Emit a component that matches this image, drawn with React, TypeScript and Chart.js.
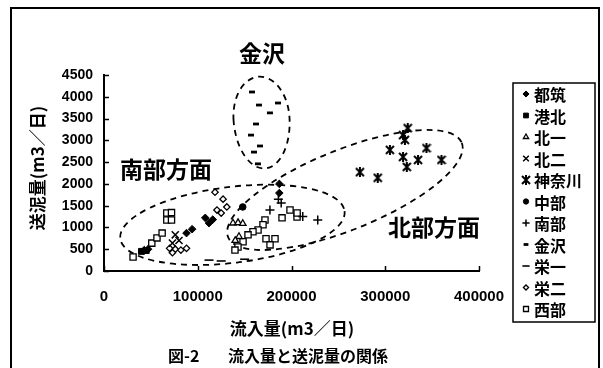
import { useEffect, useRef } from 'react';
import { Chart, registerables } from 'chart.js';
import { drawPoint } from 'chart.js/helpers';

Chart.register(...registerables);

// Plants (legend order)
const plantNames = ['都筑', '港北', '北一', '北二', '神奈川', '中部', '南部', '金沢', '栄一', '栄二', '西部'];

// Inflow (m3/day) vs sludge sent (m3/day), one list per plant
const tsuzuki: [number, number][] = [
  [43000, 480], [47000, 500], [88000, 870], [94000, 960], [108000, 1220],
  [112000, 1100], [116000, 1180], [187000, 2000], [187000, 1790],
];
const kohoku: [number, number][] = [[40000, 450], [45000, 470]];
const hokubu1: [number, number][] = [
  [137600, 1100], [143000, 1110], [148000, 1090], [144000, 790], [140000, 700],
];
const hokubu2: [number, number][] = [[76000, 830], [80000, 700], [73000, 640]];
const kanagawa: [number, number][] = [
  [273000, 2270], [292000, 2140], [305000, 2780], [319000, 3120], [324000, 3280],
  [321000, 3010], [319000, 2620], [323000, 2390], [335000, 2550], [344000, 2820],
  [360000, 2550],
];
const chubu: [number, number][] = [[148000, 1470]];
const nanbu: [number, number][] = [
  [177000, 1400], [186000, 1650], [189000, 1560], [212000, 1250], [228000, 1170],
];
const kanazawa: [number, number][] = [
  [157900, 4110], [165300, 3810], [185600, 3857], [177000, 3630], [162100, 3375],
  [156800, 3120], [166400, 2870], [160000, 2730], [164200, 2460],
];
const sakae1: [number, number][] = [[112000, 250], [125000, 230], [150000, 270]];
const sakae2: [number, number][] = [
  [118400, 1810], [127000, 1650], [120500, 1400], [131000, 1470], [125000, 1330],
  [70000, 520], [76000, 500], [82000, 480], [88000, 520], [73000, 420],
];
const seibu: [number, number][] = [
  [31000, 320], [51000, 640], [56500, 760], [62000, 870], [67000, 1170],
  [72000, 1170], [67000, 1330], [72000, 1340],
  [171700, 1170], [169600, 1060], [164300, 940], [158900, 900], [153600, 830],
  [148300, 670], [142900, 550], [139700, 480], [172800, 740], [182400, 740],
  [177100, 600], [198400, 1400], [205900, 1240], [189900, 1220], [206000, 1330],
];

const plantData = [
  tsuzuki, kohoku, hokubu1, hokubu2, kanagawa, chubu, nanbu, kanazawa, sakae1, sakae2, seibu,
];

const xTicks = [0, 100000, 200000, 300000, 400000];
const yTicks = [0, 500, 1000, 1500, 2000, 2500, 3000, 3500, 4000, 4500];

const JP = '"Noto Sans CJK JP", "Noto Sans", sans-serif';
const NUM = '"Liberation Sans", Arial, sans-serif';

function makeStarMarker(): HTMLCanvasElement {
  const c = document.createElement('canvas');
  c.width = 10;
  c.height = 10;
  const g = c.getContext('2d')!;
  g.strokeStyle = '#000';
  g.lineWidth = 2;
  g.beginPath();
  g.moveTo(1, 1); g.lineTo(9, 9);
  g.moveTo(9, 1); g.lineTo(1, 9);
  g.moveTo(5, 0); g.lineTo(5, 10);
  g.stroke();
  return c;
}

type MarkerStyle = { pointStyle: any; radius: number; fill: string; borderWidth: number };

function markerStyles(): MarkerStyle[] {
  const star = makeStarMarker();
  return [
    { pointStyle: 'rectRot', radius: 3.8, fill: '#000', borderWidth: 1 },   // 都筑
    { pointStyle: 'rect', radius: 4.2, fill: '#000', borderWidth: 1 },      // 港北
    { pointStyle: 'triangle', radius: 3.8, fill: '#fff', borderWidth: 1.3 },// 北一
    { pointStyle: 'crossRot', radius: 5, fill: '#000', borderWidth: 1.5 },  // 北二
    { pointStyle: star, radius: 5, fill: '#000', borderWidth: 1 },          // 神奈川
    { pointStyle: 'circle', radius: 3.3, fill: '#000', borderWidth: 1 },    // 中部
    { pointStyle: 'cross', radius: 4.5, fill: '#000', borderWidth: 1.5 },   // 南部
    { pointStyle: 'line', radius: 3, fill: '#000', borderWidth: 2.8 },      // 金沢
    { pointStyle: 'line', radius: 4.5, fill: '#000', borderWidth: 1.6 },    // 栄一
    { pointStyle: 'rectRot', radius: 3.2, fill: '#fff', borderWidth: 1.3 }, // 栄二
    { pointStyle: 'rect', radius: 4.4, fill: '#fff', borderWidth: 1.3 },    // 西部
  ];
}

export default function App() {
  const ref = useRef<HTMLCanvasElement | null>(null);

  useEffect(() => {
    document.body.style.margin = '0';
    const canvas = ref.current;
    if (!canvas) return;
    const styles = markerStyles();

    const decor = {
      id: 'decor',
      beforeDatasetsDraw(chart: any) {
        const ctx = chart.ctx as CanvasRenderingContext2D;
        const xs = chart.scales.x;
        const ys = chart.scales.y;
        const area = chart.chartArea;

        // inward tick marks
        ctx.save();
        ctx.strokeStyle = '#000';
        ctx.lineWidth = 1.5;
        ctx.beginPath();
        yTicks.forEach((v) => {
          const py = Math.round(ys.getPixelForValue(v)) + 0.5;
          ctx.moveTo(area.left, py);
          ctx.lineTo(area.left + 5, py);
        });
        xTicks.forEach((v) => {
          const px = Math.round(xs.getPixelForValue(v)) + 0.5;
          ctx.moveTo(px, area.bottom);
          ctx.lineTo(px, area.bottom - 5);
        });
        ctx.stroke();

        // dashed group outlines
        ctx.setLineDash([6, 5]);
        ctx.lineWidth = 1.8;
        // 南部方面
        ctx.beginPath();
        ctx.ellipse(xs.getPixelForValue(137000), ys.getPixelForValue(1060), 113, 38, -7 * Math.PI / 180, 0, Math.PI * 2);
        ctx.stroke();
        // 北部方面
        ctx.beginPath();
        ctx.ellipse(xs.getPixelForValue(257000), ys.getPixelForValue(1860), 126, 40, -22 * Math.PI / 180, 0, Math.PI * 2);
        ctx.stroke();
        // 金沢 (egg shape)
        const ecx = xs.getPixelForValue(168000);
        const ecy = ys.getPixelForValue(3500);
        ctx.beginPath();
        ctx.ellipse(ecx, ecy, 28, 42, -4 * Math.PI / 180, Math.PI, Math.PI * 2);
        ctx.ellipse(ecx, ecy, 28, 50, -4 * Math.PI / 180, 0, Math.PI);
        ctx.stroke();
        ctx.restore();
      },
      afterDraw(chart: any) {
        const ctx = chart.ctx as CanvasRenderingContext2D;
        ctx.save();
        ctx.fillStyle = '#000';
        ctx.strokeStyle = '#000';

        // outer frame
        ctx.lineWidth = 2;
        ctx.beginPath();
        ctx.moveTo(11, 368);
        ctx.lineTo(11, 8);
        ctx.lineTo(599, 8);
        ctx.lineTo(599, 368);
        ctx.stroke();

        // group labels
        ctx.textAlign = 'center';
        ctx.textBaseline = 'middle';
        ctx.font = `bold 23px ${JP}`;
        ctx.fillText('金沢', 262, 53);
        ctx.fillText('南部方面', 166, 169);
        ctx.fillText('北部方面', 434, 227);

        // axis titles and caption
        ctx.font = `bold 17px ${JP}`;
        ctx.fillText('流入量(m3／日)', 292, 329);
        ctx.textAlign = 'left';
        ctx.font = `bold 16px ${JP}`;
        ctx.fillText('図-2', 168, 356);
        ctx.fillText('流入量と送泥量の関係', 228, 356);
        ctx.textAlign = 'center';
        ctx.save();
        ctx.translate(38, 168);
        ctx.rotate(-Math.PI / 2);
        ctx.font = `bold 17px ${JP}`;
        ctx.fillText('送泥量(m3／日)', 0, 0);
        ctx.restore();

        // legend
        const lx = 513, ly = 83, lw = 82, lh = 239;
        ctx.lineWidth = 1.5;
        ctx.strokeRect(lx, ly, lw, lh);
        ctx.textAlign = 'left';
        ctx.font = `bold 16px ${JP}`;
        plantNames.forEach((name, i) => {
          const cy = ly + 11 + i * 21.5;
          const s = styles[i];
          ctx.fillStyle = s.fill;
          ctx.strokeStyle = '#000';
          ctx.lineWidth = s.borderWidth;
          drawPoint(ctx, { pointStyle: s.pointStyle, radius: s.radius * 0.8, rotation: 0, borderWidth: s.borderWidth }, lx + 13, cy);
          ctx.fillStyle = '#000';
          ctx.fillText(name, lx + 21, cy + 1);
        });
        ctx.restore();
      },
    };

    const chart = new Chart(canvas, {
      type: 'scatter',
      data: {
        datasets: plantData.map((pts, i) => ({
          label: plantNames[i],
          data: pts.map(([x, y]) => ({ x, y })),
          pointStyle: styles[i].pointStyle,
          pointRadius: styles[i].radius,
          pointBackgroundColor: styles[i].fill,
          pointBorderColor: '#000',
          pointBorderWidth: styles[i].borderWidth,
          showLine: false,
        })),
      },
      options: {
        responsive: false,
        animation: false,
        events: [],
        layout: { padding: { top: 75, right: 124, left: 0, bottom: 0 } },
        plugins: { legend: { display: false }, tooltip: { enabled: false } },
        scales: {
          x: {
            type: 'linear',
            min: 0,
            max: 400000,
            afterBuildTicks: (scale: any) => { scale.ticks = xTicks.map((v) => ({ value: v })); },
            afterFit: (scale: any) => { scale.height = 97; },
            ticks: {
              color: '#000',
              font: { family: NUM, size: 15, weight: 'bold' },
              padding: 17,
              maxRotation: 0,
              callback: (v: any) => String(v),
            },
            grid: { drawOnChartArea: false, drawTicks: false },
            border: { display: true, color: '#000', width: 2 },
          },
          y: {
            type: 'linear',
            min: 0,
            max: 4500,
            afterBuildTicks: (scale: any) => { scale.ticks = yTicks.map((v) => ({ value: v })); },
            afterFit: (scale: any) => { scale.width = 104; },
            ticks: {
              color: '#000',
              font: { family: NUM, size: 14, weight: 'bold' },
              padding: 11,
              callback: (v: any) => String(v),
            },
            grid: { drawOnChartArea: false, drawTicks: false },
            border: { display: true, color: '#000', width: 2 },
          },
        },
      },
      plugins: [decor],
    });

    return () => chart.destroy();
  }, []);

  return (
    <div style={{ position: 'absolute', left: 0, top: 0, width: 603, height: 368, background: '#fff' }}>
      <canvas ref={ref} width={603} height={368} style={{ display: 'block' }} />
    </div>
  );
}
